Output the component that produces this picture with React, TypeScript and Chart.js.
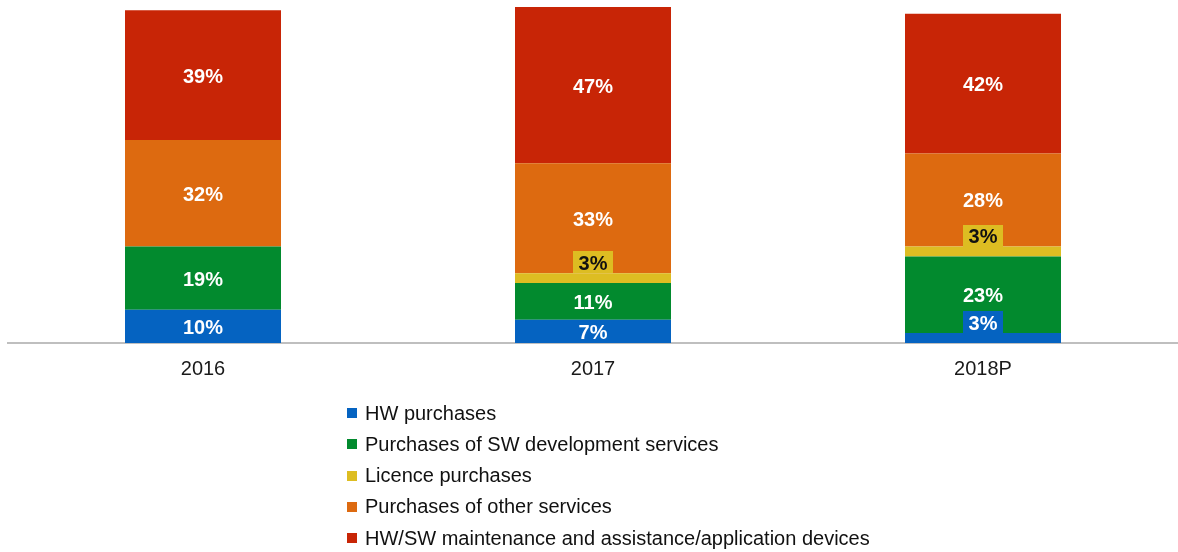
import React, { useEffect, useRef } from "react";
import { Chart, registerables } from "chart.js";

Chart.register(...registerables);

const years = ["2016", "2017", "2018P"];
const hwPurchases = [10, 7, 3];
const swDevelopment = [19, 11, 23];
const licencePurchases = [0, 3, 3];
const otherServices = [32, 33, 28];
const maintenance = [39, 47, 42];

const seriesNames = [
  "HW purchases",
  "Purchases of SW development services",
  "Licence purchases",
  "Purchases of other services",
  "HW/SW maintenance and assistance/application devices",
];
const seriesColors = ["#0563C1", "#028A2E", "#DDBD22", "#DD6A10", "#C82506"];
const labelColors = ["#ffffff", "#ffffff", "#111111", "#ffffff", "#ffffff"];

const FONT = "'Liberation Sans', Arial, sans-serif";

// Percentage labels: centred in each segment, or in a tag above thin segments
const valueLabels = {
  id: "valueLabels",
  afterDatasetsDraw(chart: any) {
    const ctx = chart.ctx;
    ctx.save();
    ctx.font = `bold 20px ${FONT}`;
    ctx.textAlign = "center";
    ctx.textBaseline = "middle";
    chart.data.datasets.forEach((ds: any, di: number) => {
      const meta = chart.getDatasetMeta(di);
      meta.data.forEach((bar: any, i: number) => {
        const v = ds.data[i];
        if (!v) return;
        const text = `${v}%`;
        const top = Math.min(bar.y, bar.base);
        const bottom = Math.max(bar.y, bar.base);
        if (v < 5) {
          const w = 40;
          const h = 22;
          ctx.fillStyle = seriesColors[di];
          ctx.fillRect(Math.round(bar.x - w / 2), Math.round(top - h), w, h);
          ctx.fillStyle = labelColors[di];
          ctx.fillText(text, bar.x, top - h / 2 + 2);
        } else {
          ctx.fillStyle = labelColors[di];
          ctx.fillText(text, bar.x, (top + bottom) / 2 + 2);
        }
      });
    });
    ctx.restore();
  },
};

// Vertical legend list under the axis
const listLegend = {
  id: "listLegend",
  afterDraw(chart: any) {
    const ctx = chart.ctx;
    ctx.save();
    ctx.font = `20px ${FONT}`;
    ctx.textAlign = "left";
    ctx.textBaseline = "middle";
    const x0 = 347;
    const y0 = 413;
    const step = 31.3;
    chart.data.datasets.forEach((ds: any, i: number) => {
      const cy = y0 + i * step;
      ctx.fillStyle = ds.backgroundColor;
      ctx.fillRect(x0, Math.round(cy - 5), 10, 10);
      ctx.fillStyle = "#111111";
      ctx.fillText(ds.label, 365, cy + 1);
    });
    ctx.restore();
  },
};

export default function App() {
  const canvasRef = useRef<HTMLCanvasElement | null>(null);

  useEffect(() => {
    if (!canvasRef.current) return;
    const values = [hwPurchases, swDevelopment, licencePurchases, otherServices, maintenance];
    const chart = new Chart(canvasRef.current, {
      type: "bar",
      data: {
        labels: years,
        datasets: values.map((d, i) => ({
          label: seriesNames[i],
          data: d,
          backgroundColor: seriesColors[i],
          borderWidth: 0,
          categoryPercentage: 1,
          barPercentage: 0.4,
        })),
      },
      options: {
        animation: false,
        responsive: false,
        maintainAspectRatio: false,
        layout: { padding: { left: 8, right: 0, top: 7, bottom: 157 } },
        plugins: {
          legend: { display: false },
          tooltip: { enabled: false },
        },
        scales: {
          x: {
            stacked: true,
            grid: { display: false, drawTicks: false },
            border: { display: true, color: "#bfbfbf", width: 2 },
            ticks: {
              padding: 14,
              color: "#1a1a1a",
              font: { family: FONT, size: 20 },
            },
          },
          y: {
            stacked: true,
            display: false,
            min: 0,
            max: 101,
          },
        },
      },
      plugins: [valueLabels, listLegend],
    });
    return () => chart.destroy();
  }, []);

  return (
    <div style={{ position: "absolute", left: 0, top: 0, width: 1178, height: 552, background: "#ffffff" }}>
      <canvas ref={canvasRef} width={1178} height={552} style={{ display: "block", width: 1178, height: 552 }} />
    </div>
  );
}
